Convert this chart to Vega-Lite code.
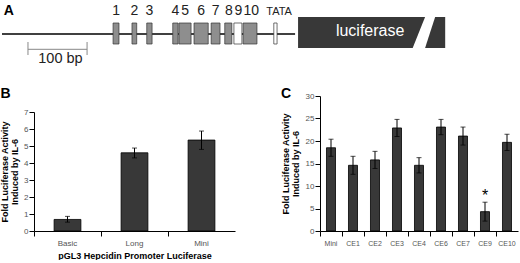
{
  "$schema": "https://vega.github.io/schema/vega-lite/v6.json",
  "padding": {"left": 0, "top": 0, "right": 0, "bottom": 0},
  "config": {
    "view": {"stroke": null},
    "font": "Liberation Sans",
    "axis": {"grid": false, "domainColor": "#000", "tickColor": "#000", "labelColor": "#555", "labelFont": "Liberation Sans Narrow, Liberation Sans", "labelFontSize": 8, "titleFont": "Liberation Sans", "titleFontSize": 9, "titleFontWeight": "bold", "titleColor": "#000", "tickSize": 5, "labelPadding": 1, "domainWidth": 1, "labelOverlap": false}
  },
  "datasets": {
    "backbone": [{"start": 0, "end": 496, "level": 0}],
    "elements": [
      {"element": "1", "start": 188, "end": 198, "center": 193, "kind": "filled"},
      {"element": "2", "start": 220, "end": 228, "center": 224, "kind": "filled"},
      {"element": "3", "start": 245, "end": 254, "center": 249.5, "kind": "filled"},
      {"element": "4", "start": 289, "end": 298, "center": 293.5, "kind": "filled"},
      {"element": "5", "start": 299.5, "end": 320, "center": 310, "kind": "filled"},
      {"element": "6", "start": 325, "end": 349, "center": 337, "kind": "filled"},
      {"element": "7", "start": 354, "end": 369, "center": 361.5, "kind": "filled"},
      {"element": "8", "start": 377, "end": 389, "center": 384, "kind": "filled"},
      {"element": "9", "start": 392.5, "end": 406, "center": 400, "kind": "open"},
      {"element": "10", "start": 408, "end": 431.5, "center": 422, "kind": "filled"},
      {"element": "TATA", "start": 460, "end": 465.5, "center": 469, "kind": "open"}
    ],
    "reporter": [
      {"piece": "a", "pos": 501, "top": 17, "bottom": -14},
      {"piece": "a", "pos": 695, "top": 17, "bottom": -14},
      {"piece": "a", "pos": 716, "top": 17, "bottom": 17},
      {"piece": "b", "pos": 716, "top": -14, "bottom": -14},
      {"piece": "b", "pos": 733, "top": 17, "bottom": -14},
      {"piece": "b", "pos": 750, "top": 17, "bottom": -14}
    ],
    "scalebar": [{"start": 44, "end": 144, "level": -15.3, "label": "100 bp"}],
    "promoters": [
      {"construct": "Basic", "mean": 0.68, "lo": 0.52, "hi": 0.86},
      {"construct": "Long", "mean": 4.6, "lo": 4.3, "hi": 4.88},
      {"construct": "Mini", "mean": 5.35, "lo": 4.8, "hi": 5.88}
    ],
    "mutants": [
      {"construct": "Mini", "mean": 18.5, "lo": 16.6, "hi": 20.4, "sig": ""},
      {"construct": "CE1", "mean": 14.6, "lo": 12.6, "hi": 16.6, "sig": ""},
      {"construct": "CE2", "mean": 15.8, "lo": 13.9, "hi": 17.7, "sig": ""},
      {"construct": "CE3", "mean": 22.9, "lo": 21.0, "hi": 24.8, "sig": ""},
      {"construct": "CE4", "mean": 14.6, "lo": 12.9, "hi": 16.3, "sig": ""},
      {"construct": "CE6", "mean": 23.1, "lo": 21.4, "hi": 24.8, "sig": ""},
      {"construct": "CE7", "mean": 21.1, "lo": 19.1, "hi": 23.1, "sig": ""},
      {"construct": "CE9", "mean": 4.3, "lo": 2.2, "hi": 6.4, "sig": "*"},
      {"construct": "CE10", "mean": 19.7, "lo": 17.9, "hi": 21.5, "sig": ""}
    ]
  },
  "spacing": 17,
  "vconcat": [
    {
      "width": 488,
      "height": 70,
      "layer": [
        {
          "data": {"name": "backbone"},
          "mark": {"type": "rule", "color": "#000", "strokeWidth": 1.5},
          "encoding": {
            "x": {"field": "start", "type": "quantitative", "scale": {"domain": [54.2, 880], "nice": false, "zero": false}, "axis": null},
            "x2": {"field": "end"},
            "y": {"field": "level", "type": "quantitative", "scale": {"domain": [-36, 34], "nice": false, "zero": false}, "axis": null}
          }
        },
        {
          "data": {"name": "elements"},
          "mark": {"type": "rect", "stroke": "#333", "strokeWidth": 0.7},
          "encoding": {
            "x": {"field": "start", "type": "quantitative", "scale": {"domain": [54.2, 880], "nice": false, "zero": false}, "axis": null},
            "x2": {"field": "end"},
            "y": {"datum": -10, "type": "quantitative", "scale": {"domain": [-36, 34], "nice": false, "zero": false}, "axis": null},
            "y2": {"datum": 11},
            "fill": {"field": "kind", "type": "nominal", "scale": {"domain": ["filled", "open"], "range": ["#8e8e8e", "#ffffff"]}, "legend": null}
          }
        },
        {
          "data": {"name": "elements"},
          "transform": [{"filter": "datum.element !== 'TATA'"}],
          "mark": {"type": "text", "fontSize": 14, "color": "#222", "baseline": "alphabetic", "align": "center"},
          "encoding": {
            "x": {"field": "center", "type": "quantitative", "scale": {"domain": [54.2, 880], "nice": false, "zero": false}, "axis": null},
            "y": {"datum": 19, "type": "quantitative", "scale": {"domain": [-36, 34], "nice": false, "zero": false}, "axis": null},
            "text": {"field": "element"}
          }
        },
        {
          "data": {"name": "elements"},
          "transform": [{"filter": "datum.element === 'TATA'"}],
          "mark": {"type": "text", "fontSize": 11, "color": "#222", "baseline": "alphabetic", "align": "center"},
          "encoding": {
            "x": {"field": "center", "type": "quantitative", "scale": {"domain": [54.2, 880], "nice": false, "zero": false}, "axis": null},
            "y": {"datum": 19, "type": "quantitative", "scale": {"domain": [-36, 34], "nice": false, "zero": false}, "axis": null},
            "text": {"field": "element"}
          }
        },
        {
          "data": {"name": "reporter"},
          "mark": {"type": "area", "color": "#383838"},
          "encoding": {
            "x": {"field": "pos", "type": "quantitative", "scale": {"domain": [54.2, 880], "nice": false, "zero": false}, "axis": null},
            "y": {"field": "top", "type": "quantitative", "scale": {"domain": [-36, 34], "nice": false, "zero": false}, "axis": null},
            "y2": {"field": "bottom"},
            "detail": {"field": "piece"}
          }
        },
        {
          "data": {"values": [{"name": "luciferase"}]},
          "mark": {"type": "text", "fontSize": 16, "color": "#fff", "baseline": "middle", "align": "center"},
          "encoding": {
            "x": {"datum": 623, "type": "quantitative", "scale": {"domain": [54.2, 880], "nice": false, "zero": false}, "axis": null},
            "y": {"datum": 3, "type": "quantitative", "scale": {"domain": [-36, 34], "nice": false, "zero": false}, "axis": null},
            "text": {"field": "name"}
          }
        },
        {
          "data": {"name": "scalebar"},
          "mark": {"type": "rule", "color": "#888", "strokeWidth": 1},
          "encoding": {
            "x": {"field": "start", "type": "quantitative", "scale": {"domain": [54.2, 880], "nice": false, "zero": false}, "axis": null},
            "x2": {"field": "end"},
            "y": {"field": "level", "type": "quantitative", "scale": {"domain": [-36, 34], "nice": false, "zero": false}, "axis": null}
          }
        },
        {
          "data": {"name": "scalebar"},
          "mark": {"type": "rule", "color": "#888", "strokeWidth": 1},
          "encoding": {
            "x": {"field": "start", "type": "quantitative", "scale": {"domain": [54.2, 880], "nice": false, "zero": false}, "axis": null},
            "y": {"datum": -8, "type": "quantitative", "scale": {"domain": [-36, 34], "nice": false, "zero": false}, "axis": null},
            "y2": {"datum": -21}
          }
        },
        {
          "data": {"name": "scalebar"},
          "mark": {"type": "rule", "color": "#888", "strokeWidth": 1},
          "encoding": {
            "x": {"field": "end", "type": "quantitative", "scale": {"domain": [54.2, 880], "nice": false, "zero": false}, "axis": null},
            "y": {"datum": -8, "type": "quantitative", "scale": {"domain": [-36, 34], "nice": false, "zero": false}, "axis": null},
            "y2": {"datum": -21}
          }
        },
        {
          "data": {"name": "scalebar"},
          "mark": {"type": "text", "fontSize": 14.5, "color": "#222", "baseline": "alphabetic", "align": "center"},
          "encoding": {
            "x": {"datum": 99, "type": "quantitative", "scale": {"domain": [54.2, 880], "nice": false, "zero": false}, "axis": null},
            "y": {"datum": -28.7, "type": "quantitative", "scale": {"domain": [-36, 34], "nice": false, "zero": false}, "axis": null},
            "text": {"field": "label"}
          }
        },
        {
          "data": {"values": [{"panel": "A"}]},
          "mark": {"type": "text", "fontSize": 14, "fontWeight": "bold", "color": "#000", "baseline": "alphabetic", "align": "left"},
          "encoding": {
            "x": {"datum": 3, "type": "quantitative", "scale": {"domain": [54.2, 880], "nice": false, "zero": false}, "axis": null},
            "y": {"datum": 19, "type": "quantitative", "scale": {"domain": [-36, 34], "nice": false, "zero": false}, "axis": null},
            "text": {"field": "panel"}
          }
        }
      ]
    },
    {
      "spacing": 46,
      "hconcat": [
        {
          "width": 201,
          "height": 135,
          "title": {"text": "B", "anchor": "start", "frame": "bounds", "fontSize": 14, "fontWeight": "bold", "color": "#000", "offset": -5},
          "data": {"name": "promoters"},
          "encoding": {
            "x": {"field": "construct", "type": "nominal", "sort": null, "scale": {"paddingInner": 0, "paddingOuter": 0},
              "axis": {"title": "pGL3 Hepcidin Promoter Luciferase", "labelAngle": 0, "bandPosition": 0, "labelPadding": 3, "titlePadding": 4, "labelFontSize": 8}}
          },
          "layer": [
            {
              "mark": {"type": "bar", "fill": "#383838", "stroke": "#000", "strokeWidth": 0.8, "width": {"band": 0.4}},
              "encoding": {
                "y": {"field": "mean", "type": "quantitative", "title": ["Fold Luciferase Activity", "Induced by IL-6"], "scale": {"domain": [0, 7], "range": [135, 16], "nice": false},
                  "axis": {"values": [0, 1, 2, 3, 4, 5, 6, 7], "labelOverlap": false, "titleLineHeight": 10, "titlePadding": 4}}
              }
            },
            {
              "mark": {"type": "errorbar", "ticks": true, "size": 5, "thickness": 1, "color": "#000"},
              "encoding": {
                "y": {"field": "lo", "type": "quantitative", "title": ["Fold Luciferase Activity", "Induced by IL-6"],
                  "axis": {"values": [0, 1, 2, 3, 4, 5, 6, 7], "labelOverlap": false, "titleLineHeight": 10, "titlePadding": 4}},
                "y2": {"field": "hi"}
              }
            }
          ]
        },
        {
          "width": 198,
          "height": 135,
          "title": {"text": "C", "anchor": "start", "frame": "bounds", "fontSize": 14, "fontWeight": "bold", "color": "#000", "offset": -9},
          "data": {"name": "mutants"},
          "encoding": {
            "x": {"field": "construct", "type": "nominal", "sort": null, "scale": {"paddingInner": 0, "paddingOuter": 0},
              "axis": {"title": null, "labelAngle": 0, "bandPosition": 0, "labelPadding": 3, "labelFontSize": 7}}
          },
          "layer": [
            {
              "mark": {"type": "bar", "fill": "#383838", "stroke": "#000", "strokeWidth": 0.8, "width": {"band": 0.41}},
              "encoding": {
                "y": {"field": "mean", "type": "quantitative", "title": ["Fold Luciferase Activity", "Induced by IL-6"], "scale": {"domain": [0, 30], "nice": false},
                  "axis": {"values": [0, 5, 10, 15, 20, 25, 30], "labelOverlap": false, "titleLineHeight": 10, "titlePadding": 5}}
              }
            },
            {
              "mark": {"type": "errorbar", "ticks": true, "size": 5, "thickness": 1, "color": "#000"},
              "encoding": {
                "y": {"field": "lo", "type": "quantitative", "title": ["Fold Luciferase Activity", "Induced by IL-6"],
                  "axis": {"values": [0, 5, 10, 15, 20, 25, 30], "labelOverlap": false, "titleLineHeight": 10, "titlePadding": 5}},
                "y2": {"field": "hi"}
              }
            },
            {
              "mark": {"type": "text", "fontSize": 16, "color": "#000", "baseline": "middle", "dy": -6},
              "encoding": {
                "y": {"field": "hi", "type": "quantitative", "title": ["Fold Luciferase Activity", "Induced by IL-6"],
                  "axis": {"values": [0, 5, 10, 15, 20, 25, 30], "labelOverlap": false, "titleLineHeight": 10, "titlePadding": 5}},
                "text": {"field": "sig"}
              }
            }
          ]
        }
      ]
    }
  ]
}
